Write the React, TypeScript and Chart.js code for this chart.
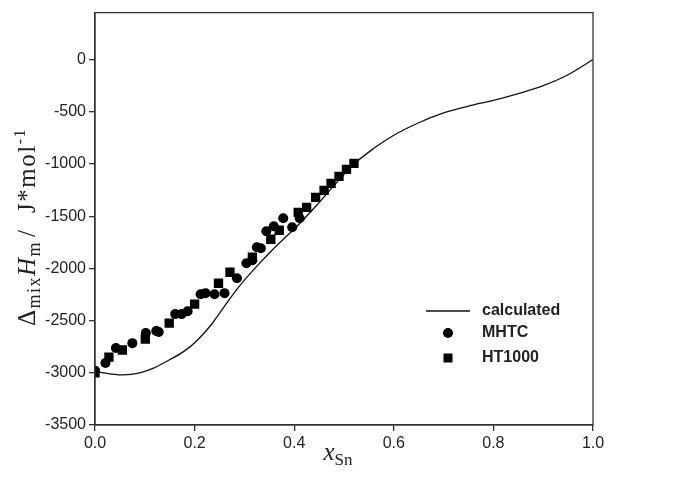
import React, { useEffect, useRef } from 'react';
import { Chart, registerables } from 'chart.js';

Chart.register(...registerables);

// calculated curve
const calcX = [0, 0.03, 0.056, 0.09, 0.12, 0.148, 0.18, 0.205, 0.235, 0.264, 0.29, 0.321, 0.359, 0.408, 0.45, 0.517, 0.56, 0.6, 0.65, 0.7, 0.75, 0.8, 0.85, 0.9, 0.95, 1.0];
const calcY = [-2990, -3010, -3020, -3000, -2950, -2880, -2790, -2690, -2530, -2335, -2170, -2000, -1810, -1585, -1370, -1014, -850, -725, -605, -510, -445, -390, -325, -250, -145, 0];

// MHTC (circles)
const mhtcX = [0, 0.021, 0.042, 0.075, 0.102, 0.123, 0.128, 0.161, 0.174, 0.186, 0.212, 0.222, 0.24, 0.26, 0.285, 0.304, 0.316, 0.325, 0.333, 0.344, 0.359, 0.378, 0.396, 0.411];
const mhtcY = [-2980, -2907, -2763, -2716, -2620, -2600, -2610, -2438, -2438, -2410, -2247, -2237, -2247, -2237, -2094, -1950, -1922, -1797, -1807, -1645, -1597, -1520, -1606, -1520];

// HT1000 (squares)
const htX = [0, 0.028, 0.055, 0.101, 0.149, 0.2, 0.248, 0.271, 0.316, 0.353, 0.37, 0.408, 0.425, 0.443, 0.46, 0.474, 0.49, 0.505, 0.52];
const htY = [-3000, -2850, -2782, -2677, -2524, -2343, -2142, -2037, -1893, -1721, -1635, -1463, -1415, -1320, -1253, -1186, -1119, -1052, -994];

const xTickValues = [0, 0.2, 0.4, 0.6, 0.8, 1.0];
const yTickValues = [-3500, -3000, -2500, -2000, -1500, -1000, -500, 0];
const legendLabels = ['calculated', 'MHTC', 'HT1000'];

const SERIF = '"Liberation Serif", "DejaVu Serif", serif';
const SANS = '"Liberation Sans", Arial, sans-serif';
const INK = '#222';

type Seg = { text: string; font: string; dy: number; gap?: number };

function drawRich(ctx: CanvasRenderingContext2D, segs: Seg[], cx: number, cy: number, rot: number, spacing: string) {
  ctx.save();
  ctx.translate(cx, cy);
  ctx.rotate(rot);
  ctx.fillStyle = INK;
  ctx.textBaseline = 'alphabetic';
  ctx.textAlign = 'left';
  (ctx as any).letterSpacing = spacing;
  let total = 0;
  const widths = segs.map((s) => {
    ctx.font = s.font;
    const w = ctx.measureText(s.text).width + (s.gap || 0);
    total += w;
    return w;
  });
  let x = -total / 2;
  segs.forEach((s, i) => {
    ctx.font = s.font;
    ctx.fillText(s.text, x, 8 + s.dy);
    x += widths[i];
  });
  ctx.restore();
}

export default function App() {
  const ref = useRef<HTMLCanvasElement>(null);

  useEffect(() => {
    document.body.style.margin = '0';
    const canvas = ref.current;
    if (!canvas) return;

    const decor = {
      id: 'decor',
      afterDraw(chart: any) {
        const ctx: CanvasRenderingContext2D = chart.ctx;
        const a = chart.chartArea;
        // frame
        ctx.save();
        ctx.strokeStyle = '#333';
        ctx.lineWidth = 1.3;
        ctx.strokeRect(a.left, a.top, a.right - a.left, a.bottom - a.top);
        ctx.restore();

        // y title
        drawRich(
          ctx,
          [
            { text: 'Δ', font: `25px ${SERIF}`, dy: 0 },
            { text: 'mix', font: `18px ${SERIF}`, dy: 5 },
            { text: 'H', font: `italic 25px ${SERIF}`, dy: 0 },
            { text: 'm', font: `18px ${SERIF}`, dy: 5, gap: 4 },
            { text: '/  J*mol', font: `25px ${SERIF}`, dy: 0 },
            { text: '-1', font: `16px ${SERIF}`, dy: -10 },
          ],
          27,
          227,
          -Math.PI / 2,
          '1.5px'
        );
        // x title
        drawRich(
          ctx,
          [
            { text: 'x', font: `italic 25px ${SERIF}`, dy: 0 },
            { text: 'Sn', font: `17px ${SERIF}`, dy: 5 },
          ],
          (a.left + a.right) / 2 - 6,
          452,
          0,
          '0px'
        );

        // legend
        const lx = a.right - 167;
        const tx = a.right - 111;
        const rows = [a.bottom - 114, a.bottom - 92, a.bottom - 67];
        ctx.save();
        ctx.strokeStyle = '#111';
        ctx.lineWidth = 1.3;
        ctx.beginPath();
        ctx.moveTo(lx, rows[0]);
        ctx.lineTo(lx + 44, rows[0]);
        ctx.stroke();
        ctx.fillStyle = '#000';
        ctx.beginPath();
        ctx.arc(lx + 22, rows[1], 5, 0, Math.PI * 2);
        ctx.fill();
        ctx.fillRect(lx + 22 - 4.5, rows[2] - 4.5, 9, 9);
        ctx.fillStyle = INK;
        ctx.font = `bold 16px ${SANS}`;
        ctx.textBaseline = 'middle';
        ctx.textAlign = 'left';
        legendLabels.forEach((t, i) => ctx.fillText(t, tx, rows[i]));
        ctx.restore();
      },
    };

    const chart = new Chart(canvas, {
      type: 'scatter',
      data: {
        datasets: [
          {
            label: legendLabels[1],
            data: mhtcX.map((x, i) => ({ x, y: mhtcY[i] })),
            pointStyle: 'circle',
            pointRadius: 5,
            backgroundColor: '#000',
            borderColor: '#000',
            borderWidth: 0,
          },
          {
            label: legendLabels[2],
            data: htX.map((x, i) => ({ x, y: htY[i] })),
            pointStyle: 'rect',
            pointRadius: 6.6,
            backgroundColor: '#000',
            borderColor: '#000',
            borderWidth: 0,
          },
          {
            label: legendLabels[0],
            type: 'line',
            data: calcX.map((x, i) => ({ x, y: calcY[i] })),
            borderColor: '#111',
            borderWidth: 1.3,
            pointRadius: 0,
            cubicInterpolationMode: 'monotone',
            fill: false,
          } as any,
        ],
      },
      options: {
        responsive: false,
        animation: false,
        layout: { padding: { top: 12, right: 90, left: 0, bottom: 0 } },
        plugins: { legend: { display: false }, tooltip: { enabled: false } },
        scales: {
          x: {
            type: 'linear',
            min: 0,
            max: 1,
            afterFit(s: any) {
              s.height = 59;
            },
            afterBuildTicks(s: any) {
              s.ticks = xTickValues.map((v) => ({ value: v }));
            },
            ticks: {
              callback: (v: any) => Number(v).toFixed(1),
              font: { family: SANS, size: 16 },
              color: INK,
              padding: 3,
              maxRotation: 0,
              autoSkip: false,
            },
            grid: { drawOnChartArea: false, drawTicks: true, tickLength: 6, color: '#333', lineWidth: 1.3 },
            border: { color: '#333', width: 1.3 },
          },
          y: {
            type: 'linear',
            min: -3500,
            max: 450,
            afterFit(s: any) {
              s.width = 95;
            },
            afterBuildTicks(s: any) {
              s.ticks = yTickValues.map((v) => ({ value: v }));
            },
            ticks: {
              callback: (v: any) => String(v),
              font: { family: SANS, size: 16 },
              color: INK,
              padding: 3,
              autoSkip: false,
            },
            grid: { drawOnChartArea: false, drawTicks: true, tickLength: 6, color: '#333', lineWidth: 1.3 },
            border: { color: '#333', width: 1.3 },
          },
        },
      },
      plugins: [decor],
    });

    return () => chart.destroy();
  }, []);

  return (
    <div style={{ width: 683, height: 484, background: '#fff' }}>
      <canvas ref={ref} width={683} height={484} style={{ display: 'block' }} />
    </div>
  );
}
